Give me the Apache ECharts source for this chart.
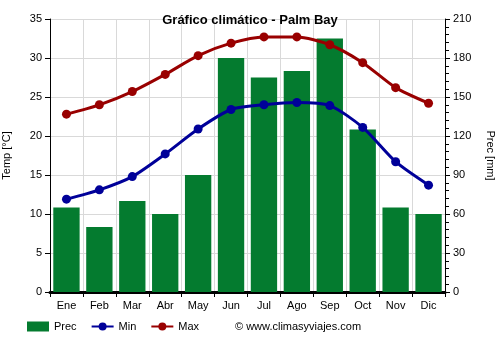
<!DOCTYPE html>
<html>
<head>
<meta charset="utf-8">
<script src="https://cdn.jsdelivr.net/npm/echarts@6/dist/echarts.min.js"></script>
<style>html,body{margin:0;padding:0;background:#fff}#c{width:500px;height:350px}</style>
</head>
<body>
<div id="c"></div>
<script>
// Monthly climate data for Palm Bay
const months = ['Ene','Feb','Mar','Abr','May','Jun','Jul','Ago','Sep','Oct','Nov','Dic'];
const prec = [65, 50, 70, 60, 90, 180, 165, 170, 195, 125, 65, 60];
const tmin = [11.9, 13.1, 14.8, 17.7, 20.9, 23.4, 24.0, 24.3, 23.9, 21.1, 16.7, 13.7];
const tmax = [22.8, 24.0, 25.7, 27.9, 30.3, 31.9, 32.7, 32.7, 31.7, 29.4, 26.2, 24.2];
const tempTicks = [0, 5, 10, 15, 20, 25, 30, 35];
const precTicks = [0, 30, 60, 90, 120, 150, 180, 210];

const font = 'Arial, "Liberation Sans", sans-serif';
const chart = echarts.init(document.getElementById('c'));
chart.setOption({
  animation: false,
  textStyle: { fontFamily: font },
  title: {
    text: 'Gráfico climático - Palm Bay',
    left: 'center', top: 9,
    textStyle: { fontSize: 13, fontWeight: 'bold', color: '#000', fontFamily: font }
  },
  grid: { left: 50, right: 55, top: 19, bottom: 58, containLabel: false, outerBoundsMode: 'none' },
  legend: {
    bottom: 13, left: 22, itemGap: 14,
    itemWidth: 22, itemHeight: 10,
    textStyle: { fontSize: 11, color: '#000', fontFamily: font },
    data: [
      { name: 'Prec', icon: 'rect' },
      { name: 'Min' },
      { name: 'Max' }
    ]
  },
  graphic: [{
    type: 'text', left: 235, top: 321,
    style: { text: '© www.climasyviajes.com', fontSize: 11, fill: '#000', fontFamily: font }
  }],
  xAxis: {
    type: 'category', data: months, boundaryGap: true,
    axisLine: { show: true, lineStyle: { color: '#000', width: 3 } },
    axisTick: { show: true, alignWithLabel: false, lineStyle: { color: '#000', width: 1 } },
    axisLabel: { color: '#000', fontSize: 11, margin: 8 },
    splitLine: { show: true, lineStyle: { color: '#d9d9d9' } }
  },
  yAxis: [{
    type: 'value', min: tempTicks[0], max: tempTicks[tempTicks.length - 1], interval: 5,
    name: 'Temp [°C]', nameLocation: 'middle', nameGap: 38, nameRotate: 90,
    nameTextStyle: { color: '#000', fontSize: 11 },
    axisLine: { show: true, lineStyle: { color: '#000' } },
    axisTick: { show: true, lineStyle: { color: '#000' } },
    axisLabel: { color: '#000', fontSize: 11 },
    splitLine: { show: true, lineStyle: { color: '#d9d9d9' } }
  }, {
    type: 'value', min: precTicks[0], max: precTicks[precTicks.length - 1], interval: 30,
    name: 'Prec [mm]', nameLocation: 'middle', nameGap: 40, nameRotate: -90,
    nameTextStyle: { color: '#000', fontSize: 11 },
    axisLine: { show: true, lineStyle: { color: '#000' } },
    axisTick: { show: true, lineStyle: { color: '#000' } },
    minorTick: { show: true, splitNumber: 5, length: 4, lineStyle: { color: '#000' } },
    axisLabel: { color: '#000', fontSize: 11 },
    splitLine: { show: false }
  }],
  series: [{
    name: 'Prec', type: 'bar', yAxisIndex: 1, data: prec,
    barCategoryGap: '20%',
    itemStyle: { color: '#047b2f' },
    z: 2
  }, {
    name: 'Min', type: 'line', yAxisIndex: 0, data: tmin,
    symbol: 'circle', symbolSize: 9,
    itemStyle: { color: '#000099' },
    lineStyle: { color: '#000099', width: 3 },
    smooth: 0.25, z: 5
  }, {
    name: 'Max', type: 'line', yAxisIndex: 0, data: tmax,
    symbol: 'circle', symbolSize: 9,
    itemStyle: { color: '#990000' },
    lineStyle: { color: '#990000', width: 3 },
    smooth: 0.25, z: 5
  }]
});
</script>
</body>
</html>
